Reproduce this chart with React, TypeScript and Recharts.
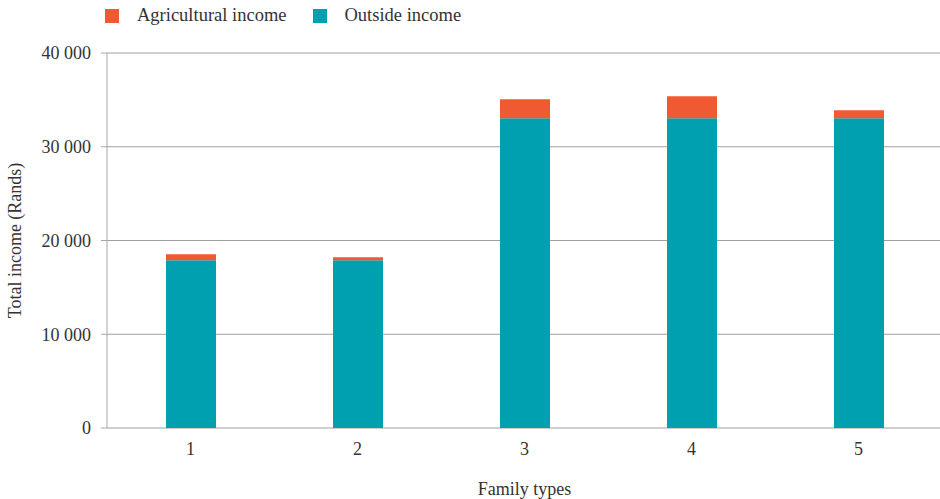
import { BarChart, Bar, XAxis, YAxis, CartesianGrid } from 'recharts'

const familyTypes = ['1', '2', '3', '4', '5']
const outsideIncome = [17900, 17900, 33050, 33050, 33050]
const agriculturalIncome = [640, 320, 2030, 2350, 850]
const yTicks = [0, 10000, 20000, 30000, 40000]
const boundaryTicks = [0, 1, 2, 3, 4, 5]

const ORANGE = '#F05A33'
const TEAL = '#00A0B0'
const AXIS = '#a8a8a8'
const FONT = 'Liberation Serif, DejaVu Serif, serif'

const data = familyTypes.map((t, i) => ({
  type: t,
  outside: outsideIncome[i],
  agri: agriculturalIncome[i],
}))

const legendItems = [
  { label: 'Agricultural income', color: ORANGE },
  { label: 'Outside income', color: TEAL },
]

function fmt(v: number) {
  return v === 0 ? '0' : `${Math.floor(v / 1000)} ${String(v % 1000).padStart(3, '0')}`
}

const textStyle = { fill: '#333', fontSize: 18, fontFamily: FONT }

export default function App() {
  return (
    <div style={{ width: 940, height: 499, position: 'relative', fontFamily: FONT, overflow: 'hidden' }}>
      <style>{'body{margin:0}'}</style>
      <div style={{ position: 'absolute', top: 5, left: 105, display: 'flex', fontSize: 18.5, color: '#333', zIndex: 1 }}>
        {legendItems.map((it) => (
          <div key={it.label} style={{ display: 'flex', alignItems: 'center', marginRight: 26 }}>
            <span style={{ width: 14, height: 14, background: it.color, display: 'inline-block', marginRight: 18 }} />
            <span>{it.label}</span>
          </div>
        ))}
      </div>
      <BarChart
        width={946}
        height={499}
        data={data}
        margin={{ top: 53, right: 4, bottom: 0, left: 1 }}
      >
        <CartesianGrid vertical={false} stroke="#a0a0a0" strokeWidth={1} />
        <XAxis
          xAxisId="n"
          type="number"
          domain={[0, 5]}
          ticks={boundaryTicks}
          tick={() => <g />}
          height={0}
          tickSize={6}
          axisLine={{ stroke: AXIS }}
          tickLine={{ stroke: AXIS }}
        />
        <XAxis
          dataKey="type"
          height={71}
          axisLine={false}
          tickLine={false}
          tickSize={6}
          tickMargin={8}
          tick={textStyle}
          label={{ value: 'Family types', position: 'insideBottom', offset: 4, ...textStyle }}
        />
        <YAxis
          width={106}
          domain={[0, 40000]}
          ticks={yTicks}
          tickFormatter={fmt}
          tickSize={6}
          tickMargin={10}
          axisLine={{ stroke: AXIS }}
          tickLine={{ stroke: AXIS }}
          tick={textStyle}
          label={{
            value: 'Total income (Rands)',
            angle: -90,
            position: 'insideLeft',
            offset: 14,
            ...textStyle,
            style: { textAnchor: 'middle' },
          }}
        />
        <Bar dataKey="outside" stackId="a" fill={TEAL} barSize={50} isAnimationActive={false} />
        <Bar dataKey="agri" stackId="a" fill={ORANGE} barSize={50} isAnimationActive={false} />
      </BarChart>
    </div>
  )
}
